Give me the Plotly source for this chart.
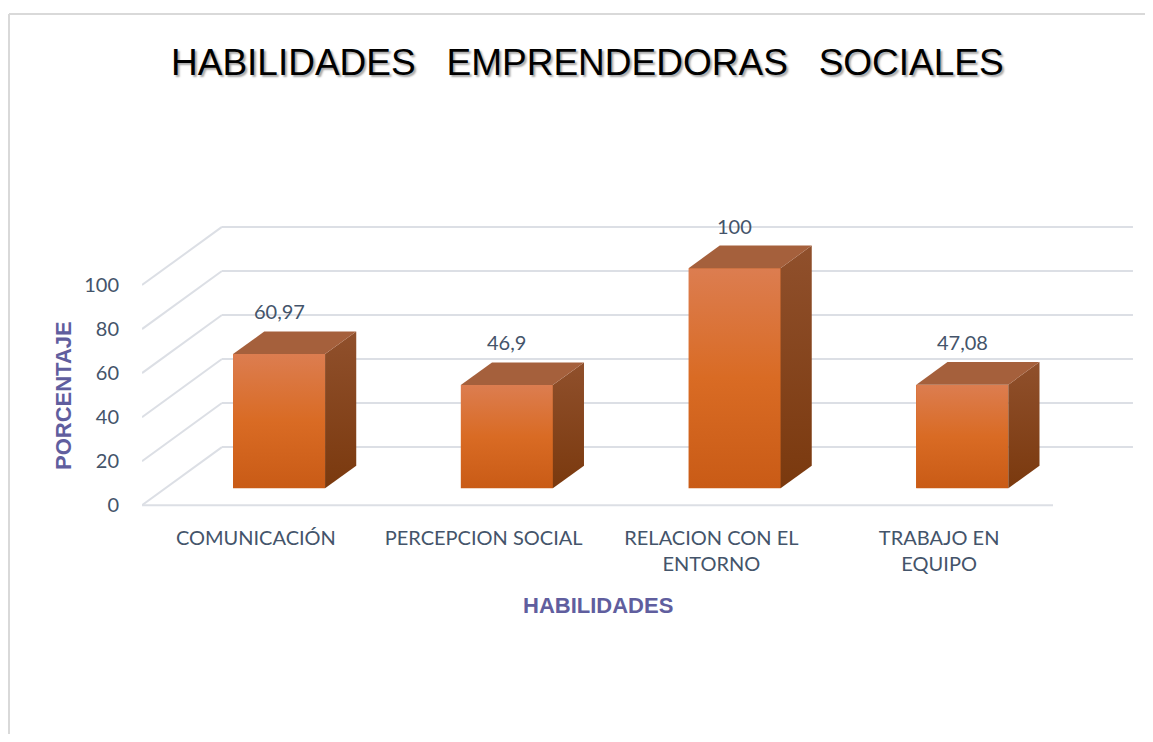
import plotly.graph_objects as go

# data
categorias = ["COMUNICACIÓN", "PERCEPCION SOCIAL", "RELACION CON EL<br>ENTORNO", "TRABAJO EN<br>EQUIPO"]
porcentajes = [60.97, 46.9, 100, 47.08]
ticks_y = [0, 20, 40, 60, 80, 100]

# fake 3d geometry (oblique projection), in axis units
DX, DY = 0.351, 26.4      # full depth of the floor
D0, D1 = 0.29, 0.68       # bar depth, front/back
HALF_W = 0.202

TXT = "#44546A"
PURPLE = "#605E9E"
GRID = "#DCDFE5"

# page body has an 8px margin, keep the figure inside the window (no scrollbars)
FW, FH = 1137, 726
L, T = 134, 211           # figure coords
W, H = 993, 295
R, B = FW - L - W, FH - T - H


# window pixel -> paper coords
def px(x):
    return (x - 8 - L) / W


def py(y):
    return (T + 8 + H - y) / H


fig = go.Figure()

# walls: back grid lines, side diagonals, floor front edge (under the bars)
n = len(categorias)
for v in ticks_y:
    fig.add_shape(type="line", x0=DX, x1=n + DX, y0=v + DY, y1=v + DY,
                  line=dict(color=GRID, width=2), layer="below")
    fig.add_shape(type="line", x0=0, x1=DX, y0=v, y1=v + DY,
                  line=dict(color=GRID, width=2), layer="below")
fig.add_shape(type="line", x0=0, x1=n, y0=0, y1=0, line=dict(color=GRID, width=2), layer="below")

b0 = D0 * DY
dx, dy = (D1 - D0) * DX, (D1 - D0) * DY
xc = [i + 0.5 + D0 * DX for i in range(n)]

# front faces
fig.add_trace(go.Bar(x=xc, y=porcentajes, base=[b0] * n, width=2 * HALF_W,
                     marker=dict(color="#D66921", line=dict(width=0)), hoverinfo="y", showlegend=False))

for x, v in zip(xc, porcentajes):
    xl, xr, top = x - HALF_W, x + HALF_W, b0 + v
    # front shading
    fig.add_trace(go.Scatter(
        x=[xl, xr, xr, xl, xl], y=[b0, b0, top, top, b0], mode="lines", fill="toself",
        line=dict(width=0),
        fillgradient=dict(type="vertical", colorscale=[[0, "#C95B16"], [0.5, "#D96B24"], [1, "#DC7D50"]]),
        hoverinfo="skip", showlegend=False))
    # side face
    fig.add_trace(go.Scatter(
        x=[xr, xr, xr + dx, xr + dx, xr], y=[b0, top, top + dy, b0 + dy, b0], mode="lines", fill="toself",
        line=dict(width=0),
        fillgradient=dict(type="vertical", colorscale=[[0, "#7A390E"], [1, "#90502C"]]),
        hoverinfo="skip", showlegend=False))
    # top face
    fig.add_trace(go.Scatter(
        x=[xl, xr, xr + dx, xl + dx, xl], y=[top, top, top + dy, top + dy, top], mode="lines", fill="toself",
        line=dict(width=0), fillcolor="#A5603C",
        hoverinfo="skip", showlegend=False))
    fig.add_annotation(x=x, y=top + dy, text=f"{v:g}".replace(".", ","), showarrow=False,
                       yanchor="bottom", yshift=6, font=dict(family="Lato", size=20, color=TXT))

# titles
titulo = "HABILIDADES&nbsp;&nbsp;&nbsp;EMPRENDEDORAS&nbsp;&nbsp;&nbsp;SOCIALES"
fig.add_annotation(xref="paper", yref="paper", x=px(587), y=py(63), text=titulo, showarrow=False,
                   xanchor="center", yanchor="middle",
                   font=dict(family="Liberation Sans, Arial", size=37, color="#000000",
                             shadow="2px 2px 2px rgba(0,0,0,0.35)"))
fig.add_annotation(xref="paper", yref="paper", x=px(598), y=py(605), text="HABILIDADES", showarrow=False,
                   xanchor="center", yanchor="middle",
                   font=dict(family="Liberation Sans, Arial", size=22, color=PURPLE, weight="bold"))
fig.add_annotation(xref="paper", yref="paper", x=px(63), y=py(396), text="PORCENTAJE", showarrow=False,
                   xanchor="center", yanchor="middle", textangle=-90,
                   font=dict(family="Liberation Sans, Arial", size=22, color=PURPLE, weight="bold"))

# chart border (top and left)
fig.add_shape(type="line", xref="paper", yref="paper", x0=px(9), x1=px(1145), y0=py(14), y1=py(14),
              line=dict(color="#D9D9D9", width=2))
fig.add_shape(type="line", xref="paper", yref="paper", x0=px(9), x1=px(9), y0=py(14), y1=py(734),
              line=dict(color="#D9D9D9", width=2))

fig.update_layout(
    width=FW, height=FH,
    margin=dict(l=L, r=R, t=T, b=B),
    paper_bgcolor="white", plot_bgcolor="white",
    bargap=0,
    xaxis=dict(range=[0, 4.36], tickmode="array", tickvals=[i + 0.5 for i in range(n)],
               ticktext=categorias, showgrid=False, zeroline=False, showline=False, ticks="",
               ticklabelstandoff=10, tickfont=dict(family="Lato", size=20, color=TXT)),
    yaxis=dict(range=[-4, 130], tickmode="array", tickvals=ticks_y, showgrid=False, zeroline=False,
               showline=False, ticks="", ticklabelstandoff=22, tickfont=dict(family="Lato", size=20, color=TXT)),
)

fig.write_html("out.html")
